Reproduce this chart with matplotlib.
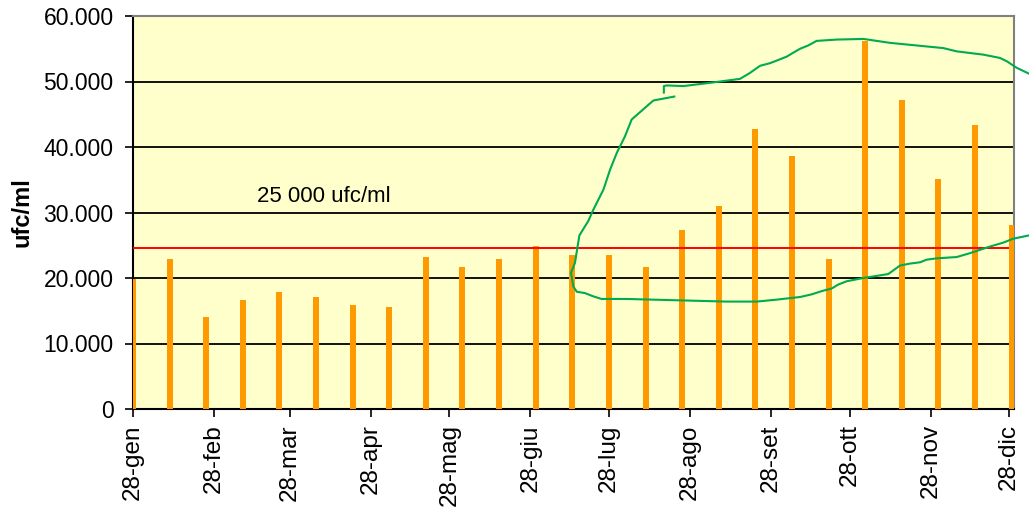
import datetime as dt
import matplotlib
matplotlib.use("Agg")
import matplotlib.pyplot as plt
import matplotlib.dates as mdates
from matplotlib.ticker import FuncFormatter, MultipleLocator

plt.rcParams['font.family'] = ['Liberation Sans', 'DejaVu Sans']

# samples every two weeks starting 28 Jan
start = dt.datetime(2008, 1, 28)
sample_step_days = 14
counts = [19800, 22900, 14050, 16700, 17900, 17050, 15900, 15600, 23200, 21700,
          22900, 24900, 23500, 23500, 21700, 27300, 31000, 42700, 38700, 22900,
          56200, 47100, 35100, 43300, 28100]
limit_value = 24600
limit_label = "25 000 ufc/ml"
month_names = ["gen", "feb", "mar", "apr", "mag", "giu",
               "lug", "ago", "set", "ott", "nov", "dic"]

# hand drawn green marking (day offset from 28 Jan, ufc/ml)
stroke1_days = [207.0, 199.0, 196.4, 190.7, 189.4, 188.1, 185.0, 182.4, 179.9, 176.0,
                174.1, 170.7, 169.0, 167.5, 168.4, 169.7, 172.8, 176.0, 179.2, 188.8,
                207.9, 227.0, 238.5, 246.2, 255.1, 259.5, 263.4, 267.2, 269.7, 272.9,
                279.3, 288.8, 293.3, 297.1, 301.0, 303.5, 307.3, 315.0, 320.1, 327.7,
                332.8, 336.6, 342.6]
stroke1_vals = [47700, 47100, 46200, 44200, 42900, 41600, 39100, 36500, 33500, 30400,
                28700, 26500, 22300, 20800, 18700, 17900, 17700, 17200, 16800, 16800,
                16600, 16400, 16400, 16700, 17100, 17500, 18000, 18400, 19000, 19500,
                20000, 20600, 21900, 22200, 22400, 22800, 23000, 23200, 23800, 24800,
                25400, 26000, 26500]
stroke2_days = [203.0, 203.0, 204.1, 210.4, 220.7, 232.1, 235.9, 239.8, 243.6, 246.2,
                250.0, 252.5, 255.1, 258.2, 261.4, 269.1, 279.3, 289.5, 309.9, 315.0,
                325.2, 331.5, 334.1, 337.9, 342.6]
stroke2_vals = [48300, 49300, 49400, 49300, 49800, 50400, 51300, 52400, 52800, 53200,
                53800, 54400, 55000, 55500, 56200, 56400, 56500, 55900, 55100, 54600,
                54100, 53600, 53100, 52100, 51200]

dates = [start + dt.timedelta(days=sample_step_days * i) for i in range(len(counts))]
ticks = [dt.datetime(2008, m, 28) for m in range(1, 13)]
tick_labels = ["28-" + m for m in month_names]

fig = plt.figure(figsize=(10.29, 5.12), dpi=100)
ax = fig.add_axes([133 / 1029, 103 / 512, 881 / 1029, 393 / 512])
ax.set_facecolor('#FFFFCC')

ax.bar(dates, counts, width=2.3, color='#FF9900', zorder=3)
ax.hlines(limit_value, start, ticks[-1], color='#FF0000', lw=1.4, zorder=4)
ax.text(start + dt.timedelta(days=73), 32400, limit_label, fontsize=16,
        ha='center', va='center', zorder=5)

for d, v in [(stroke1_days, stroke1_vals), (stroke2_days, stroke2_vals)]:
    xs = [start + dt.timedelta(days=k) for k in d]
    ax.plot(xs, v, color='#00AA50', lw=1.5, zorder=6, clip_on=False)

ax.set_xlim(start, start + dt.timedelta(days=336.9))
ax.set_ylim(0, 60000)
ax.yaxis.set_major_locator(MultipleLocator(10000))
ax.yaxis.set_major_formatter(FuncFormatter(lambda v, p: f"{int(v):,}".replace(",", ".")))
ax.grid(axis='y', color='black', lw=1.3, zorder=1)

ax.set_xticks(ticks)
ax.set_xticklabels(tick_labels, rotation=90)
ax.tick_params(axis='x', labelsize=17.5, length=6, width=1.2, pad=5)
ax.tick_params(axis='y', labelsize=16.5, length=6, width=1.2, pad=8)

for s in ['left', 'bottom']:
    ax.spines[s].set_color('black')
    ax.spines[s].set_linewidth(1.5)
for s in ['top', 'right']:
    ax.spines[s].set_color('#808080')
    ax.spines[s].set_linewidth(1.5)

ax.set_ylabel('ufc/ml', fontsize=17, fontweight='bold')
ax.yaxis.set_label_coords(-99 / 881, 0.5)

fig.savefig('out.png', dpi=100)
